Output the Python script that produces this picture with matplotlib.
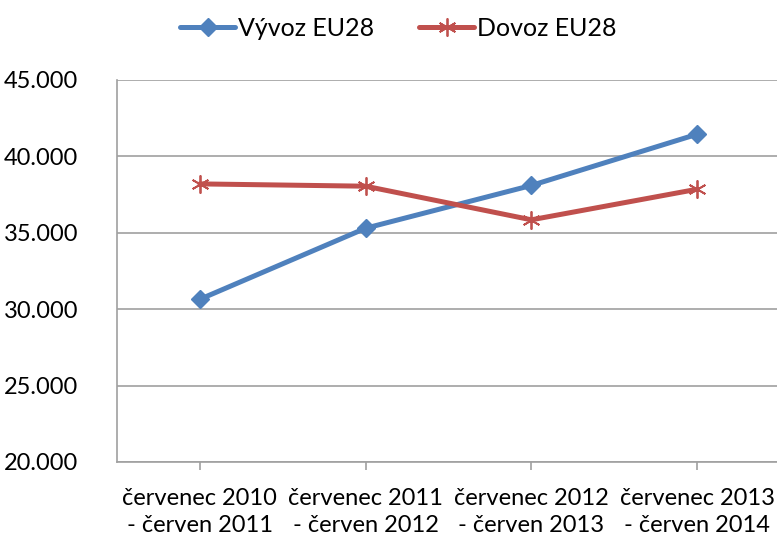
import matplotlib
matplotlib.use("Agg")
import matplotlib.pyplot as plt
from matplotlib.ticker import FuncFormatter, MultipleLocator

categories = ["červenec 2010\n- červen 2011", "červenec 2011\n- červen 2012",
              "červenec 2012\n- červen 2013", "červenec 2013\n- červen 2014"]
vyvoz = [30650, 35300, 38100, 41450]
dovoz = [38200, 38050, 35850, 37850]

plt.rcParams['font.family'] = ['Lato', 'DejaVu Sans']

fig = plt.figure(figsize=(7.77, 5.38), dpi=100)
ax = fig.add_axes([117 / 777, 1 - 462 / 538, 663 / 777, 382 / 538])

x = range(len(categories))
ax.plot(x, vyvoz, color="#4F81BD", lw=3.6, marker="D", ms=9.5, label="Vývoz EU28",
        solid_capstyle="round", zorder=3)
ax.plot(x, dovoz, color="#C0504D", lw=3.6, marker=(6, 2, 0), ms=13, mew=1.3,
        label="Dovoz EU28", solid_capstyle="round", zorder=3)

ax.set_xlim(-0.5, 3.5)
ax.set_ylim(20000, 45000)
ax.yaxis.set_major_locator(MultipleLocator(5000))
ax.yaxis.set_major_formatter(FuncFormatter(lambda v, p: f"{int(v):,}".replace(",", ".")))
ax.set_xticks(list(x))
ax.set_xticklabels(categories, fontsize=17, linespacing=1.35)
ax.tick_params(axis="y", length=0, labelsize=17, pad=28)
ax.tick_params(axis="x", length=6, color="#A0A0A0", width=1.2, pad=13)
ax.grid(axis="y", color="#A0A0A0", lw=1.2)
ax.set_axisbelow(True)
for s in ["top", "right"]:
    ax.spines[s].set_visible(False)
for s in ["left", "bottom"]:
    ax.spines[s].set_color("#A0A0A0")
    ax.spines[s].set_linewidth(1.2)

fig.legend(loc="center", bbox_to_anchor=(0.513, 1 - 28 / 538), ncol=2, frameon=False,
           fontsize=18, handlelength=2.2, columnspacing=1.8, handletextpad=0.12)

fig.savefig("out.png", dpi=100)
